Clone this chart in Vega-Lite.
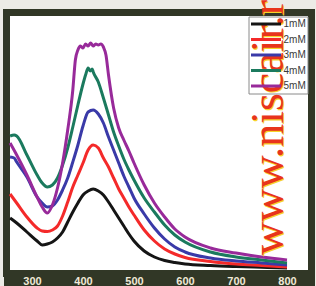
{
  "$schema": "https://vega.github.io/schema/vega-lite/v6.json",
  "width": 305,
  "height": 261,
  "autosize": "none",
  "padding": {"left": 6.5, "top": 12.5, "right": 4.5, "bottom": 12.5},
  "background": "#ecebe6",
  "view": {"fill": "white", "stroke": "#313726", "strokeWidth": 7},
  "title": {"text": "Ncol", "fontSize": 8, "color": "#777777", "offset": 3.5, "baseline": "bottom", "anchor": "middle", "font": "Liberation Sans", "fontWeight": "normal"},
  "datasets": {
    "spectra": [
      {"c":"1mM","w":257,"a":0.52},{"c":"1mM","w":270,"a":0.47},{"c":"1mM","w":290,"a":0.38},{"c":"1mM","w":310,"a":0.29},{"c":"1mM","w":320,"a":0.25},{"c":"1mM","w":330,"a":0.26},{"c":"1mM","w":340,"a":0.28},{"c":"1mM","w":350,"a":0.32},{"c":"1mM","w":360,"a":0.38},{"c":"1mM","w":370,"a":0.48},{"c":"1mM","w":380,"a":0.58},{"c":"1mM","w":390,"a":0.67},{"c":"1mM","w":400,"a":0.75},{"c":"1mM","w":410,"a":0.79},{"c":"1mM","w":420,"a":0.81},{"c":"1mM","w":430,"a":0.79},{"c":"1mM","w":440,"a":0.75},{"c":"1mM","w":450,"a":0.68},{"c":"1mM","w":460,"a":0.60},{"c":"1mM","w":470,"a":0.52},{"c":"1mM","w":480,"a":0.44},{"c":"1mM","w":490,"a":0.36},{"c":"1mM","w":500,"a":0.29},{"c":"1mM","w":520,"a":0.19},{"c":"1mM","w":540,"a":0.13},{"c":"1mM","w":560,"a":0.095},{"c":"1mM","w":580,"a":0.075},{"c":"1mM","w":600,"a":0.06},{"c":"1mM","w":650,"a":0.045},{"c":"1mM","w":700,"a":0.035},{"c":"1mM","w":750,"a":0.027},{"c":"1mM","w":800,"a":0.02},
      {"c":"2mM","w":257,"a":0.76},{"c":"2mM","w":270,"a":0.67},{"c":"2mM","w":290,"a":0.53},{"c":"2mM","w":310,"a":0.42},{"c":"2mM","w":320,"a":0.39},{"c":"2mM","w":330,"a":0.385},{"c":"2mM","w":340,"a":0.40},{"c":"2mM","w":350,"a":0.44},{"c":"2mM","w":360,"a":0.54},{"c":"2mM","w":370,"a":0.68},{"c":"2mM","w":380,"a":0.83},{"c":"2mM","w":390,"a":0.95},{"c":"2mM","w":400,"a":1.07},{"c":"2mM","w":410,"a":1.20},{"c":"2mM","w":420,"a":1.25},{"c":"2mM","w":430,"a":1.22},{"c":"2mM","w":440,"a":1.12},{"c":"2mM","w":450,"a":1.03},{"c":"2mM","w":460,"a":0.92},{"c":"2mM","w":470,"a":0.81},{"c":"2mM","w":480,"a":0.72},{"c":"2mM","w":490,"a":0.63},{"c":"2mM","w":500,"a":0.55},{"c":"2mM","w":520,"a":0.40},{"c":"2mM","w":540,"a":0.29},{"c":"2mM","w":560,"a":0.21},{"c":"2mM","w":580,"a":0.16},{"c":"2mM","w":600,"a":0.125},{"c":"2mM","w":650,"a":0.085},{"c":"2mM","w":700,"a":0.06},{"c":"2mM","w":750,"a":0.045},{"c":"2mM","w":800,"a":0.03},
      {"c":"3mM","w":257,"a":1.13},{"c":"3mM","w":265,"a":1.12},{"c":"3mM","w":270,"a":1.08},{"c":"3mM","w":290,"a":0.93},{"c":"3mM","w":310,"a":0.73},{"c":"3mM","w":320,"a":0.67},{"c":"3mM","w":330,"a":0.63},{"c":"3mM","w":340,"a":0.64},{"c":"3mM","w":350,"a":0.70},{"c":"3mM","w":360,"a":0.80},{"c":"3mM","w":370,"a":0.92},{"c":"3mM","w":380,"a":1.08},{"c":"3mM","w":390,"a":1.25},{"c":"3mM","w":400,"a":1.44},{"c":"3mM","w":410,"a":1.58},{"c":"3mM","w":420,"a":1.60},{"c":"3mM","w":430,"a":1.56},{"c":"3mM","w":440,"a":1.47},{"c":"3mM","w":450,"a":1.33},{"c":"3mM","w":460,"a":1.20},{"c":"3mM","w":470,"a":1.07},{"c":"3mM","w":480,"a":0.94},{"c":"3mM","w":490,"a":0.83},{"c":"3mM","w":500,"a":0.72},{"c":"3mM","w":520,"a":0.56},{"c":"3mM","w":540,"a":0.42},{"c":"3mM","w":560,"a":0.31},{"c":"3mM","w":580,"a":0.23},{"c":"3mM","w":600,"a":0.18},{"c":"3mM","w":650,"a":0.12},{"c":"3mM","w":700,"a":0.09},{"c":"3mM","w":750,"a":0.07},{"c":"3mM","w":800,"a":0.05},
      {"c":"4mM","w":257,"a":1.34},{"c":"4mM","w":265,"a":1.35},{"c":"4mM","w":270,"a":1.34},{"c":"4mM","w":290,"a":1.15},{"c":"4mM","w":310,"a":0.95},{"c":"4mM","w":320,"a":0.87},{"c":"4mM","w":330,"a":0.83},{"c":"4mM","w":340,"a":0.85},{"c":"4mM","w":350,"a":0.92},{"c":"4mM","w":360,"a":1.05},{"c":"4mM","w":370,"a":1.22},{"c":"4mM","w":380,"a":1.43},{"c":"4mM","w":390,"a":1.65},{"c":"4mM","w":400,"a":1.86},{"c":"4mM","w":405,"a":1.95},{"c":"4mM","w":410,"a":2.02},{"c":"4mM","w":414,"a":1.99},{"c":"4mM","w":418,"a":2.01},{"c":"4mM","w":420,"a":1.98},{"c":"4mM","w":430,"a":1.88},{"c":"4mM","w":440,"a":1.72},{"c":"4mM","w":450,"a":1.55},{"c":"4mM","w":460,"a":1.38},{"c":"4mM","w":470,"a":1.24},{"c":"4mM","w":480,"a":1.11},{"c":"4mM","w":490,"a":1.00},{"c":"4mM","w":500,"a":0.90},{"c":"4mM","w":520,"a":0.72},{"c":"4mM","w":540,"a":0.58},{"c":"4mM","w":560,"a":0.45},{"c":"4mM","w":580,"a":0.35},{"c":"4mM","w":600,"a":0.28},{"c":"4mM","w":650,"a":0.18},{"c":"4mM","w":700,"a":0.13},{"c":"4mM","w":750,"a":0.10},{"c":"4mM","w":800,"a":0.07},
      {"c":"5mM","w":257,"a":1.27},{"c":"5mM","w":270,"a":1.15},{"c":"5mM","w":290,"a":0.95},{"c":"5mM","w":310,"a":0.73},{"c":"5mM","w":320,"a":0.63},{"c":"5mM","w":330,"a":0.57},{"c":"5mM","w":340,"a":0.65},{"c":"5mM","w":350,"a":0.82},{"c":"5mM","w":360,"a":1.07},{"c":"5mM","w":370,"a":1.40},{"c":"5mM","w":380,"a":1.80},{"c":"5mM","w":385,"a":2.10},{"c":"5mM","w":390,"a":2.20},{"c":"5mM","w":395,"a":2.24},{"c":"5mM","w":400,"a":2.22},{"c":"5mM","w":405,"a":2.26},{"c":"5mM","w":410,"a":2.24},{"c":"5mM","w":415,"a":2.27},{"c":"5mM","w":420,"a":2.24},{"c":"5mM","w":425,"a":2.26},{"c":"5mM","w":430,"a":2.25},{"c":"5mM","w":435,"a":2.26},{"c":"5mM","w":440,"a":2.23},{"c":"5mM","w":445,"a":2.15},{"c":"5mM","w":450,"a":1.95},{"c":"5mM","w":460,"a":1.62},{"c":"5mM","w":470,"a":1.42},{"c":"5mM","w":480,"a":1.30},{"c":"5mM","w":490,"a":1.19},{"c":"5mM","w":500,"a":1.07},{"c":"5mM","w":520,"a":0.85},{"c":"5mM","w":540,"a":0.67},{"c":"5mM","w":560,"a":0.53},{"c":"5mM","w":580,"a":0.41},{"c":"5mM","w":600,"a":0.33},{"c":"5mM","w":650,"a":0.22},{"c":"5mM","w":700,"a":0.17},{"c":"5mM","w":750,"a":0.13},{"c":"5mM","w":800,"a":0.10}
    ]
  },
  "layer": [
    {
      "data": {"name": "spectra"},
      "mark": {"type": "line", "strokeWidth": 3, "interpolate": "monotone", "clip": true},
      "encoding": {
        "x": {
          "field": "w", "type": "quantitative",
          "scale": {"domain": [250, 848], "nice": false, "zero": false},
          "axis": {
            "title": null,
            "values": [250,260,270,280,290,300,310,320,330,340,350,360,370,380,390,400,410,420,430,440,450,460,470,480,490,500,510,520,530,540,550,560,570,580,590,600,610,620,630,640,650,660,670,680,690,700,710,720,730,740,750,760,770,780,790,800,810,820,830,840,848],
            "tickCount": 1000,
            "labelExpr": "datum.value % 100 == 0 && datum.value >= 300 ? datum.label : ''",
            "format": "d",
            "domain": false,
            "grid": false,
            "tickSize": 13,
            "tickWidth": 6,
            "tickColor": "#313726",
            "labelColor": "#efe9d6",
            "labelFont": "Liberation Sans",
            "labelFontSize": 11,
            "labelFontWeight": "bold",
            "labelPadding": -11.5,
            "labelOverlap": false,
            "labelFlush": false
          }
        },
        "y": {
          "field": "a", "type": "quantitative",
          "scale": {"domain": [-0.035, 2.575], "nice": false, "zero": false},
          "axis": null
        },
        "color": {
          "field": "c", "type": "nominal",
          "scale": {"domain": ["1mM","2mM","3mM","4mM","5mM"], "range": ["#151515","#f42a2a","#3a3aa8","#1b7a5e","#982a9a"]},
          "legend": {
            "title": null,
            "orient": "top-right",
            "offset": 4,
            "padding": 1,
            "strokeColor": "#8a8a8a",
            "fillColor": null,
            "symbolType": "M-3,0H3",
            "symbolSize": 100,
            "symbolStrokeWidth": 3,
            "symbolOffset": 10,
            "labelOffset": 11,
            "labelFont": "Liberation Sans",
            "labelFontSize": 10,
            "labelColor": "#3a3a3a",
            "rowPadding": 2.5
          }
        }
      }
    },
    {
      "data": {"values": [{}]},
      "mark": {"type": "text", "angle": 270, "align": "left", "baseline": "alphabetic", "font": "Liberation Serif", "fontSize": 46, "color": "#f7d32a", "dy": 1.3, "dx": -1.2},
      "encoding": {"x": {"datum": 792}, "y": {"datum": 0.15}, "text": {"value": "www.niscair.res.in"}}
    },
    {
      "data": {"values": [{}]},
      "mark": {"type": "text", "angle": 270, "align": "left", "baseline": "alphabetic", "font": "Liberation Serif", "fontSize": 46, "color": "#e8341c"},
      "encoding": {"x": {"datum": 792}, "y": {"datum": 0.15}, "text": {"value": "www.niscair.res.in"}}
    }
  ]
}
